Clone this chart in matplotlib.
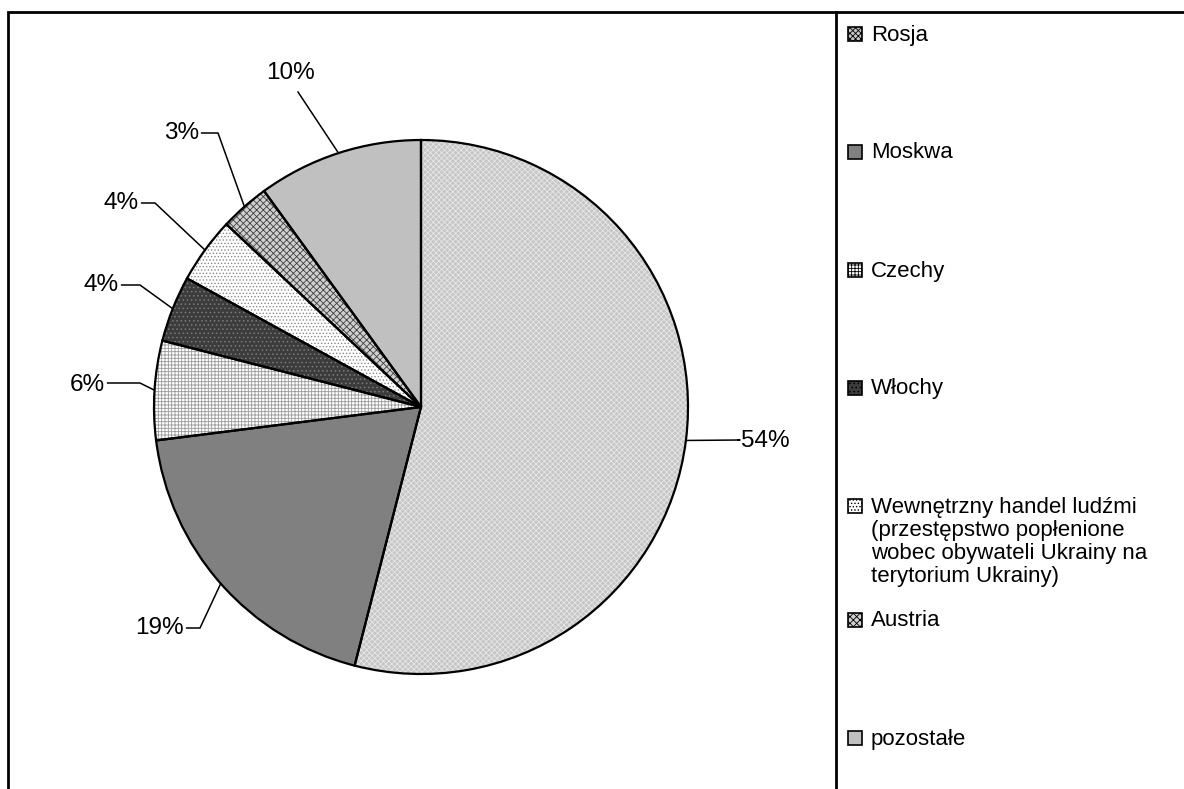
import matplotlib
matplotlib.use("Agg")
import matplotlib.pyplot as plt
from matplotlib.patches import Rectangle
import numpy as np

plt.rcParams['font.family'] = ['Liberation Sans', 'DejaVu Sans']
plt.rcParams['hatch.linewidth'] = 0.6

# data
labels = ['Rosja', 'Moskwa', 'Czechy', 'Włochy',
          'Wewnętrzny handel ludźmi\n(przestępstwo popłenione\nwobec obywateli Ukrainy na\nterytorium Ukrainy)',
          'Austria', 'pozostałe']
values = [54, 19, 6, 4, 4, 3, 10]

# styles (grey patterns like the original)
faces = ['#c6c6c6', '#808080', '#ffffff', '#3c3c3c', '#ffffff', '#d0d0d0', '#c0c0c0']
hatches = ['xxxxxx', None, '+++++', '....', '.....', 'xxxxx', None]
hcolors = ['#e6e6e6', '#808080', '#9a9a9a', '#7a7a7a', '#8a8a8a', '#404040', '#c0c0c0']

W, H = 1184, 789
fig = plt.figure(figsize=(W / 100, H / 100), dpi=100)

cx, cy, r = 421, 407, 267
ax = fig.add_axes([(cx - r) / W, (H - cy - r) / H, 2 * r / W, 2 * r / H])

wedges, _ = ax.pie(values, startangle=90, counterclock=False, colors=faces,
                   radius=1)
for w, h, hc in zip(wedges, hatches, hcolors):
    w.set_edgecolor(hc)
    w.set_linewidth(0)
    if h:
        w.set_hatch(h)
# outlines on top
ax.pie(values, startangle=90, counterclock=False, radius=1,
       wedgeprops=dict(fill=False, edgecolor='black', linewidth=1.6))
ax.set_xlim(-1, 1)
ax.set_ylim(-1, 1)
ax.set_aspect('equal')
ax.axis('off')

# percentage labels with leader lines
def px(x, y):
    return (x - cx) / r, (cy - y) / r

label_pos = [(741, 441, 'left'), (184, 628, 'right'), (105, 385, 'right'),
             (119, 285, 'right'), (139, 203, 'right'), (199, 133, 'right'),
             (291, 73, 'center')]
elbow = [(740, 440), (200, 628), (140, 383), (140, 285), (155, 203),
         (218, 133), (298, 92)]
total = sum(values)
cum = 0
for v, (tx, ty, ha), (ex, ey) in zip(values, label_pos, elbow):
    mid = np.deg2rad(90 - 360 * (cum + v / 2) / total)
    cum += v
    x0, y0 = np.cos(mid), np.sin(mid)
    e = px(ex, ey)
    t = px(tx, ty)
    if ha == 'center':
        ax.plot([x0, e[0]], [y0, e[1]], color='black', lw=1.1, clip_on=False)
    else:
        ax.plot([x0, e[0], t[0] + (0.01 if ha == 'right' else -0.01)],
                [y0, e[1], e[1]], color='black', lw=1.1, clip_on=False)
    ax.text(t[0], t[1], f'{v}%', ha=ha, va='center', fontsize=17.5,
            clip_on=False)

# frame and divider
fig.add_artist(Rectangle((8 / W, -0.1), 1.2, (H - 12) / H + 0.1,
                         transform=fig.transFigure, fill=False,
                         edgecolor='black', linewidth=2))
fig.add_artist(plt.Line2D([836 / W, 836 / W], [-0.1, (H - 12) / H],
                          transform=fig.transFigure, color='black', lw=2))

# legend
leg_y = [35, 153, 271, 389, 507, 621, 739]
for lab, fc, h, hc, y in zip(labels, faces, hatches, hcolors, leg_y):
    sq = Rectangle((848 / W, (H - y - 6) / H), 14 / W, 14 / H,
                   transform=fig.transFigure, facecolor=fc,
                   edgecolor='black', linewidth=1.2)
    if h:
        sq.set_hatch(h)
    fig.add_artist(sq)
    if '\n' in lab:
        fig.text(871 / W, (H - y + 10) / H, lab, ha='left', va='top',
                 fontsize=16, linespacing=1.13, transform=fig.transFigure)
    else:
        fig.text(871 / W, (H - y) / H, lab, ha='left', va='center',
                 fontsize=16, transform=fig.transFigure)

fig.savefig('out.png', dpi=100)
